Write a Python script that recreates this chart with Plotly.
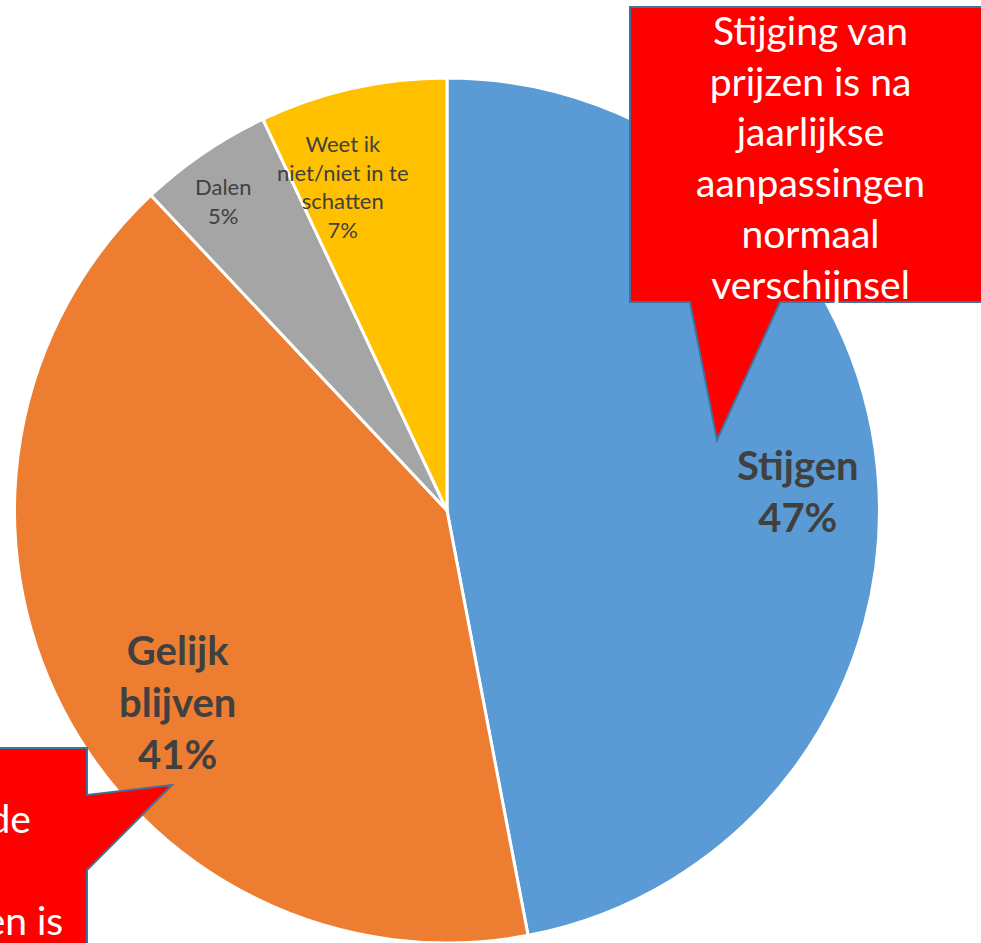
import plotly.graph_objects as go

# Survey answers: expected price development
labels = ["Stijgen", "Gelijk blijven", "Dalen", "Weet ik niet/niet in te schatten"]
values = [47, 41, 5, 7]
colors = ["#5B9BD5", "#ED7D31", "#A5A5A5", "#FFC000"]

# Label text per slice (line breaks as shown on the chart)
label_lines = [["Stijgen"], ["Gelijk", "blijven"], ["Dalen"], ["Weet ik", "niet/niet in te", "schatten"]]

callout_top = ["Stijging van", "prijzen is na", "jaarlijkse", "aanpassingen", "normaal", "verschijnsel"]
callout_bottom = ["Prijzen blijven", "gelijk omdat de", "concurrentie in", "de regio groot en is"]

W, H = 981, 943


def px(x):
    return x / W


def py(y):
    return 1 - y / H


fig = go.Figure()
fig.add_trace(go.Pie(
    labels=labels,
    values=values,
    sort=False,
    direction="clockwise",
    rotation=0,
    marker=dict(colors=colors, line=dict(color="white", width=3)),
    textinfo="none",
    hoverinfo="label+percent",
    showlegend=False,
    domain=dict(x=[px(13), px(881)], y=[0, py(78)]),
))

# Slice labels: big bold labels for the two main slices, small ones for the rest
label_pos = [(798, 491), (177, 702), (223, 201), (343, 186)]
label_big = [True, True, False, False]
annotations = []
for lines, v, (lx, ly), big in zip(label_lines, values, label_pos, label_big):
    txt = "<br>".join(lines + [f"{v}%"])
    if big:
        txt = f"<b>{txt}</b>"
    annotations.append(dict(
        x=px(lx), y=py(ly), xref="paper", yref="paper",
        text=txt, showarrow=False, xanchor="center", yanchor="middle",
        align="center",
        font=dict(family="Lato", size=40 if big else 22, color="#404040"),
    ))

# Speech-bubble callouts
bubble_style = dict(type="path", xref="paper", yref="paper",
                    fillcolor="#FF0000", line=dict(color="#41719C", width=2),
                    layer="above")


def path(points):
    return "M " + " L ".join(f"{px(x)},{py(y)}" for x, y in points) + " Z"


shapes = [
    dict(path=path([(630, 7), (995, 7), (995, 302), (780, 302), (717, 440),
                    (690, 302), (630, 302)]), **bubble_style),
    dict(path=path([(-300, 748), (87, 748), (87, 795), (172, 785), (87, 870),
                    (87, 1000), (-300, 1000)]), **bubble_style),
]

annotations.append(dict(
    x=px(810), y=py(157), xref="paper", yref="paper",
    text="<br>".join(callout_top), showarrow=False,
    xanchor="center", yanchor="middle", align="center",
    font=dict(family="Lato", size=39, color="white"),
))

# Lower bubble: one line per annotation, right edges as laid out in the bubble
bottom_ends = [-8, 33, -20, 65]
bottom_baselines = [781, 832, 883, 934]
for line, xe, yb in zip(callout_bottom, bottom_ends, bottom_baselines):
    annotations.append(dict(
        x=px(xe), y=py(yb - 14), xref="paper", yref="paper",
        text=line, showarrow=False, xanchor="right", yanchor="middle",
        font=dict(family="Lato", size=39, color="white"),
    ))

fig.update_layout(
    width=W, height=H,
    margin=dict(l=0, r=0, t=0, b=0),
    paper_bgcolor="white", plot_bgcolor="white",
    shapes=shapes, annotations=annotations,
)

fig.write_html("out.html")
